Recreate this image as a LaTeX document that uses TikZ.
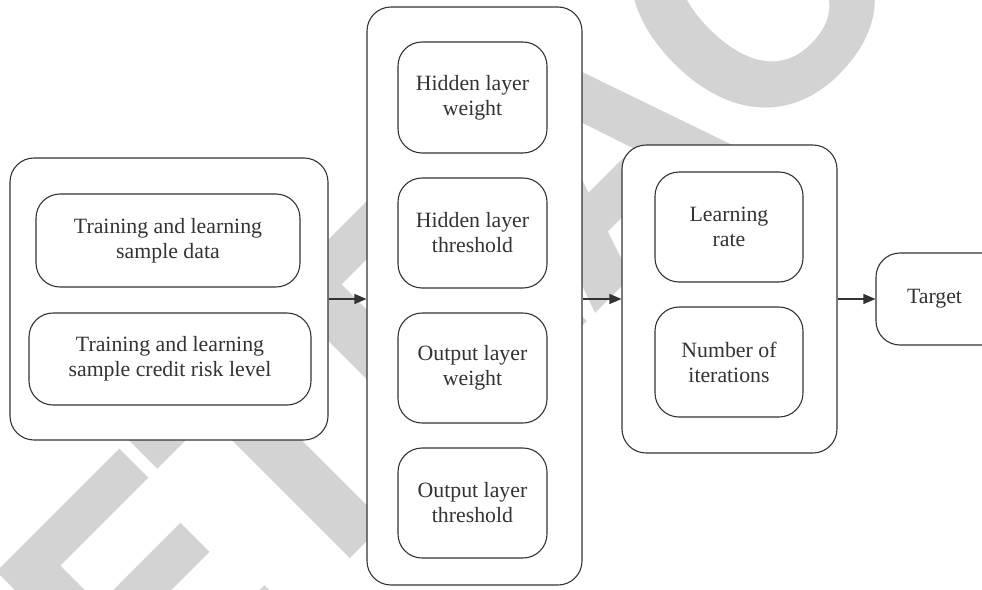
\documentclass[tikz,border=0pt]{standalone}
\usepackage{fontspec}
\setmainfont{Liberation Serif}
\newfontfamily\wmfont{TeX Gyre Heros}
\usetikzlibrary{arrows.meta}
\definecolor{wmgray}{RGB}{211,211,211}
\definecolor{ink}{RGB}{51,51,51}
\newcommand{\wk}{\kern-12pt}
\begin{document}
\begin{tikzpicture}[x=1pt,y=-1pt,
  box/.style={draw=ink, line width=1.1pt, fill=white, rounded corners=24pt, inner sep=0pt, align=center,
    text=ink, font=\fontsize{21.8}{25}\selectfont},
  conn/.style={draw=ink, line width=1.1pt, -{Triangle[length=12pt,width=10pt]}}]
\useasboundingbox (0,0) rectangle (982,589);
% watermark
\node[inner sep=0pt, rotate=45, text=wmgray, font=\wmfont\bfseries\fontsize{330}{330}\selectfont] (wm) at (588.5,150.5) {R\wk E\wk T\wk R\wk A\wk C\wk T\wk E\wk D};
% left group
\node[box, minimum width=318pt, minimum height=282pt] (L) at (169,299) {};
\node[box, minimum width=264pt, minimum height=93pt] (L1) at (168,240.5) {Training and learning\\sample data};
\node[box, minimum width=282pt, minimum height=92pt] (L2) at (170,359) {Training and learning\\sample credit risk level};
% middle group
\node[box, minimum width=215pt, minimum height=578pt] (M) at (474.5,296) {};
\node[box, minimum width=149pt, minimum height=111pt] (M1) at (472.5,97.5) {Hidden layer\\weight};
\node[box, minimum width=149pt, minimum height=110pt] (M2) at (472.5,233) {Hidden layer\\threshold};
\node[box, minimum width=149pt, minimum height=110pt] (M3) at (472.5,368) {Output layer\\weight};
\node[box, minimum width=149pt, minimum height=110pt] (M4) at (472.5,503) {Output layer\\threshold};
% right group
\node[box, minimum width=215pt, minimum height=308pt] (R) at (729.5,299) {};
\node[box, minimum width=148pt, minimum height=110pt] (R1) at (729,227) {Learning\\rate};
\node[box, minimum width=148pt, minimum height=110pt] (R2) at (729,362) {Number of\\iterations};
% target
\node[box, minimum width=130pt, minimum height=92pt, text width=130pt, align=left] (T) at (941,299) {\hspace*{31pt}Target};
% connectors
\draw[conn] (L.east) -- (L.east -| M.west);
\draw[conn] (L.east -| M.east) -- (L.east -| R.west);
\draw[conn] (R.east) -- (T.west);
\end{tikzpicture}
\end{document}
